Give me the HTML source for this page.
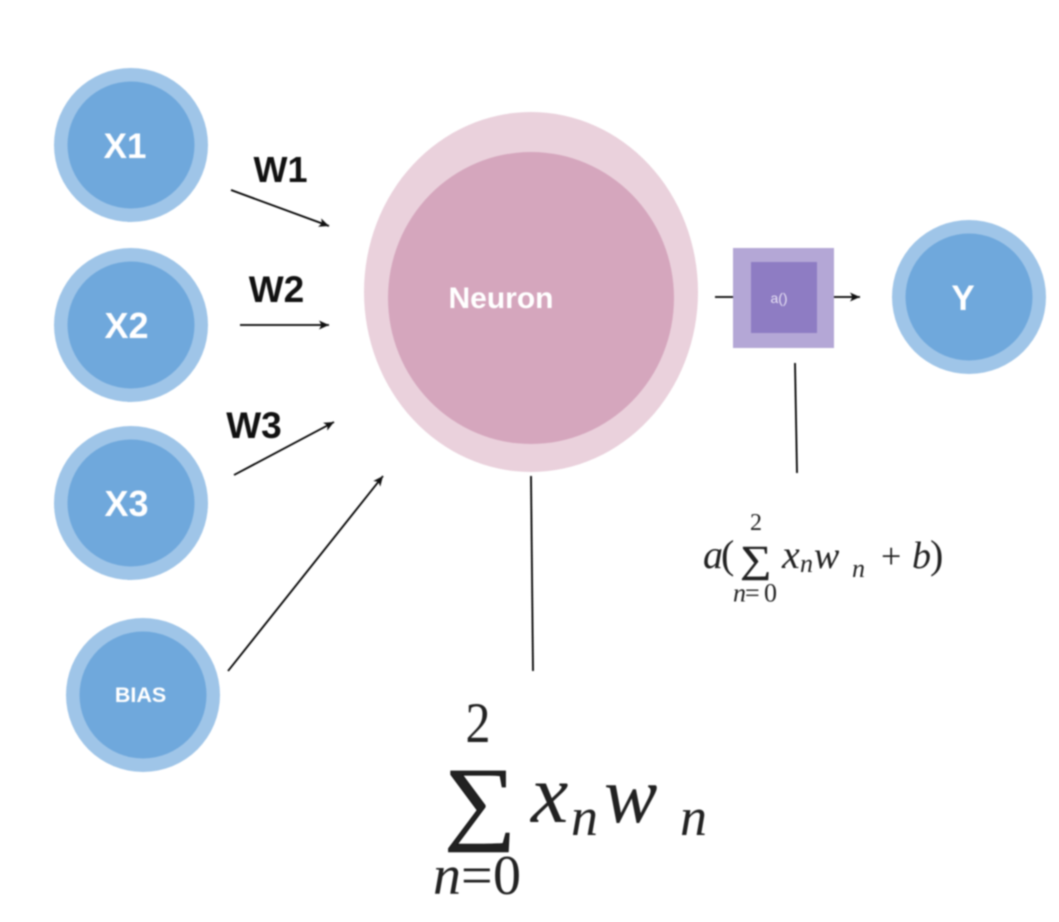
<!DOCTYPE html>
<html>
<head>
<meta charset="utf-8">
<style>
html,body{margin:0;padding:0;background:#fff;width:1059px;height:922px;overflow:hidden}
svg{display:block;filter:blur(.7px)}
.s{font-family:"Liberation Sans",sans-serif;font-weight:700}
.m{font-family:"Liberation Serif",serif;fill:#222}
.i{font-style:italic}
</style>
</head>
<body>
<svg width="1059" height="922" viewBox="0 0 1059 922" xmlns="http://www.w3.org/2000/svg">
<defs>
<marker id="a" markerUnits="userSpaceOnUse" markerWidth="12" markerHeight="10" refX="10" refY="5" orient="auto">
<path d="M0 0.5L10 5L0 9.5L2.5 5Z" fill="#111"/>
</marker>
</defs>

<g fill="#9fc5e8">
<circle cx="131" cy="145" r="77"/>
<circle cx="131" cy="325" r="77"/>
<circle cx="131" cy="503" r="77"/>
<circle cx="143" cy="695" r="77"/>
<circle cx="969" cy="297" r="77"/>
</g>
<g fill="#6fa8dc">
<circle cx="131" cy="145" r="63.5"/>
<circle cx="131" cy="325" r="63.5"/>
<circle cx="131" cy="503" r="63.5"/>
<circle cx="143" cy="695" r="63.5"/>
<circle cx="969" cy="297" r="63.5"/>
</g>

<ellipse cx="531" cy="292" rx="167" ry="180" fill="#ead1dc"/>
<ellipse cx="531" cy="298" rx="143" ry="146" fill="#d5a6bd"/>

<rect x="733" y="248" width="101" height="100" fill="#b4a7d6"/>
<rect x="751" y="262" width="66" height="71" fill="#8e7cc3"/>

<g stroke="#000" stroke-width="1.8" fill="none">
<line x1="231" y1="190" x2="329" y2="226" marker-end="url(#a)"/>
<line x1="240" y1="325" x2="329" y2="325" marker-end="url(#a)"/>
<line x1="234" y1="475" x2="334" y2="422" marker-end="url(#a)"/>
<line x1="228" y1="671" x2="383" y2="476" marker-end="url(#a)"/>
<line x1="715" y1="297" x2="733" y2="297"/>
<line x1="834" y1="297" x2="860" y2="297" marker-end="url(#a)"/>
<line x1="795" y1="363" x2="797" y2="473"/>
<line x1="531" y1="476" x2="533" y2="671"/>
</g>

<g class="s" fill="#fff" text-anchor="middle">
<text x="125" y="158" font-size="35">X1</text>
<text x="126.500" y="338" font-size="36">X2</text>
<text x="126.500" y="516" font-size="36">X3</text>
<text x="140.500" y="702" font-size="21.500">BIAS</text>
<text x="963" y="310" font-size="35">Y</text>
<text x="501" y="308" font-size="30">Neuron</text>
<text x="779" y="303" font-size="14" font-weight="400" fill="#e8e2f5">a()</text>
</g>

<g class="s" fill="#111" text-anchor="middle">
<text x="280.500" y="182" font-size="36">W1</text>
<text x="276.500" y="302" font-size="37">W2</text>
<text x="254" y="438" font-size="37">W3</text>
</g>

<!-- small formula -->
<g class="m">
<text class="i" x="703" y="568" font-size="40">a</text>
<text x="721" y="568" font-size="40">(</text>
<text x="756" y="530" font-size="24" text-anchor="middle">2</text>
<text transform="translate(756 572) scale(1.15 1)" x="0" y="0" font-size="38" text-anchor="middle" stroke="#222" stroke-width=".5">∑</text>
<text class="i" x="733" y="601.500" font-size="26">n</text>
<text x="745" y="601.500" font-size="26">=</text>
<text x="764" y="601.500" font-size="26">0</text>
<text class="i" x="782" y="568" font-size="40">x</text>
<text class="i" x="800" y="572" font-size="26">n</text>
<text class="i" x="814" y="568" font-size="38">w</text>
<text class="i" x="852" y="577" font-size="26">n</text>
<text x="881" y="568" font-size="36">+</text>
<text class="i" x="912" y="568" font-size="38">b</text>
<text x="930" y="568" font-size="40">)</text>
</g>

<!-- large formula -->
<g class="m" fill="#111">
<text transform="translate(478 742) scale(1 1.15)" x="0" y="0" font-size="50" text-anchor="middle">2</text>
<text transform="translate(480 832) scale(1.09 1)" x="0" y="0" font-size="93" text-anchor="middle" stroke="#111" stroke-width=".8">∑</text>
<text class="i" x="433" y="894" font-size="56">n</text>
<text x="461" y="894" font-size="56">=</text>
<text x="493" y="894" font-size="56">0</text>
<text class="i" x="531" y="822" font-size="84">x</text>
<text class="i" x="571" y="835" font-size="54">n</text>
<text class="i" x="604" y="822" font-size="80">w</text>
<text class="i" x="680" y="835" font-size="54">n</text>
</g>
</svg>
</body>
</html>
